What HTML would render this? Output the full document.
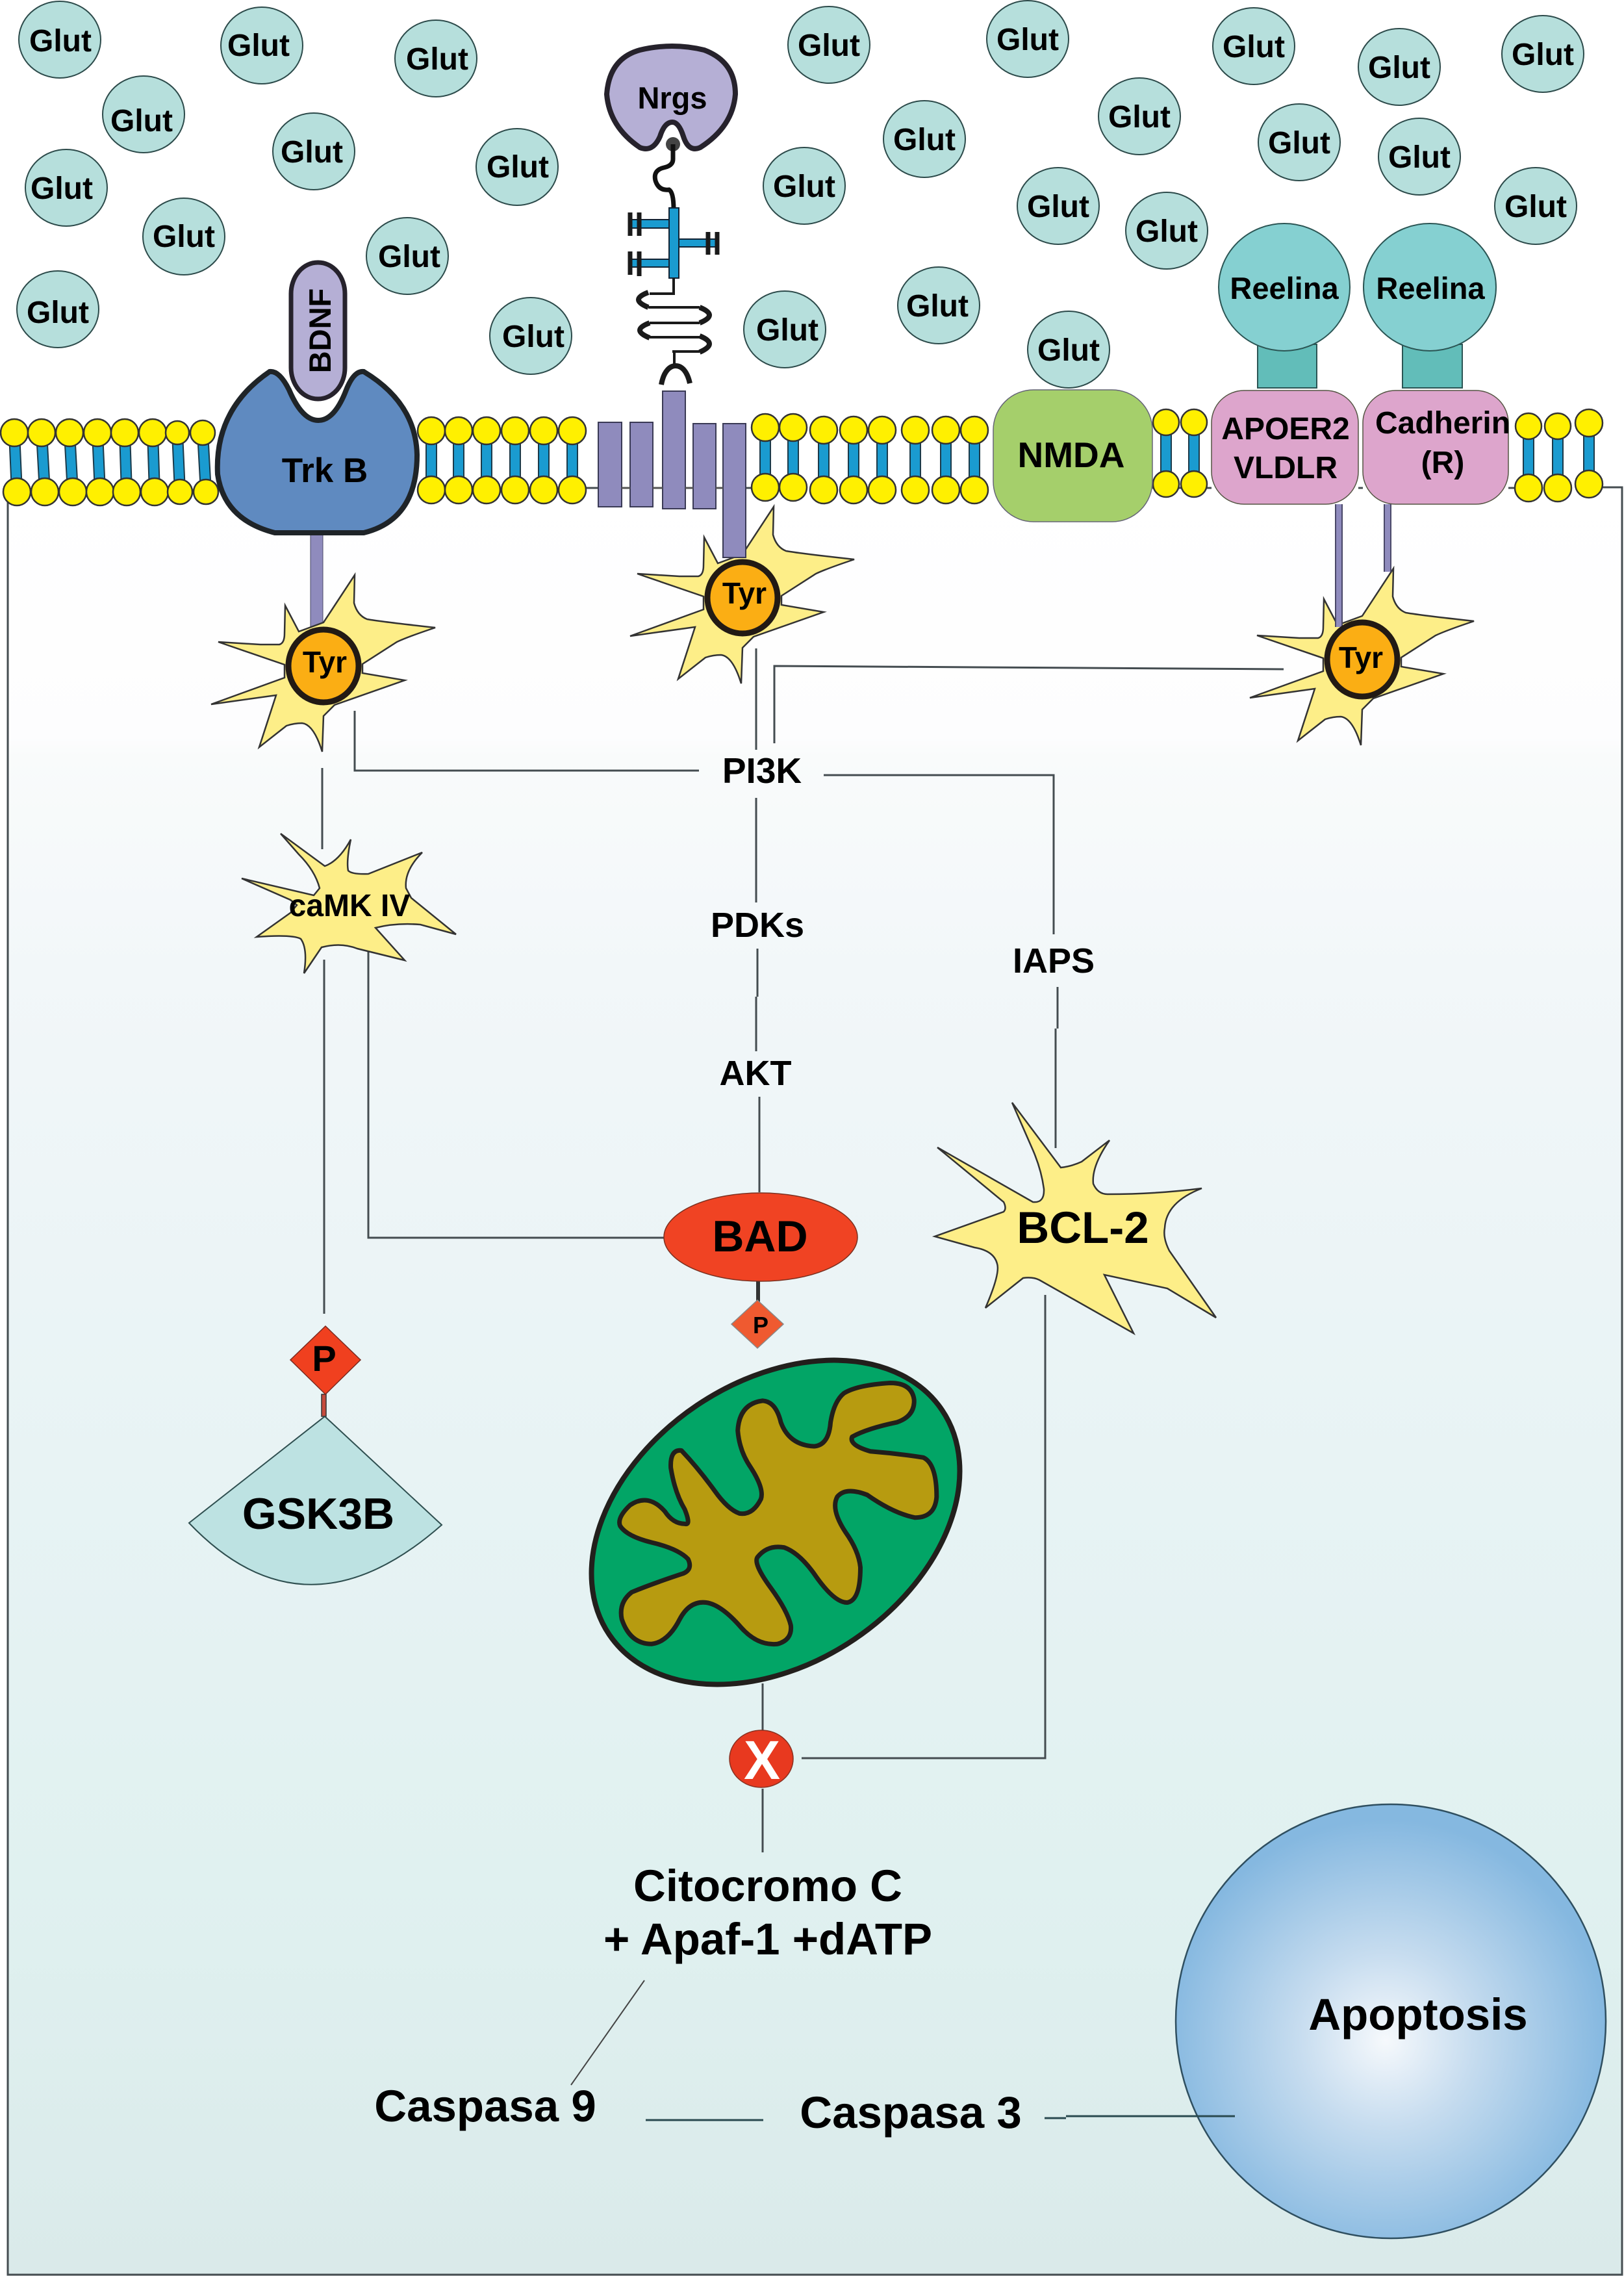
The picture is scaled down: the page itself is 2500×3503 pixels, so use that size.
<!DOCTYPE html>
<html><head><meta charset="utf-8"><title>Diagram</title>
<style>
html,body{margin:0;padding:0;background:#fff}
svg{display:block}
text{font-family:"Liberation Sans",Arial,sans-serif;font-weight:bold;fill:#000;text-anchor:middle}
.g{font-size:48px}
.l{stroke:#444c50;stroke-width:3;fill:none}
.gc{fill:#b6dfdc;stroke:#2c4a4a;stroke-width:2}
.tail{stroke:#1b3a4a;stroke-width:18}
.tailb{stroke:#1a9bd0;stroke-width:14}
.hd{fill:#fff000;stroke:#333;stroke-width:2.5}
.st{fill:#fdee88;stroke:#333;stroke-width:2.5;stroke-linejoin:miter}
.ty{fill:#fbae14;stroke:#221a14;stroke-width:9}
.pr{fill:#8f8bbd;stroke:#3a3a55;stroke-width:2}
</style></head>
<body>
<svg xmlns="http://www.w3.org/2000/svg" width="2500" height="3503" viewBox="0 0 2500 3503">
<defs>
<linearGradient id="bg" x1="0" y1="750" x2="0" y2="3503" gradientUnits="userSpaceOnUse">
<stop offset="0" stop-color="#ffffff"/><stop offset=".14" stop-color="#fdfdfe"/><stop offset=".15" stop-color="#f9fbfb"/><stop offset=".27" stop-color="#f2f7f9"/><stop offset=".45" stop-color="#ebf4f6"/><stop offset=".78" stop-color="#e0f1f0"/><stop offset="1" stop-color="#daeaea"/>
</linearGradient>
<radialGradient id="ap" gradientUnits="userSpaceOnUse" cx="2133" cy="3140" r="340">
<stop offset="0" stop-color="#f6f9fc"/><stop offset=".4" stop-color="#c6dcef"/><stop offset="1" stop-color="#85b8e0"/>
</radialGradient>
<path id="star" class="st" d="M48-140L47-97Q52-78 67-72Q90-68 172-59Q130-45 113-37L60-3L60 11L125 22L17 60L0 77L-2 132Q-15 90-33 88Q-45 88-57 92L-99 125L-73 45L-173 59L-60 18L-60-2L-162-37L-97-33L-68-33Q-60-35-60-50L-59-93L-38-53L0-67Z"/>
</defs>

<rect x="12" y="750" width="2485" height="2752" fill="url(#bg)"/>
<path class="l" d="M12 770V3501H2497V750H2440"/>
<path class="l" d="M900 751H1180M1774 751H1865M2091 751H2098M2322 751H2353"/>

<!-- Glut -->
<g>
<ellipse class="gc" cx="92" cy="61" rx="63" ry="59"/><text class="g" x="93" y="79">Glut</text>
<ellipse class="gc" cx="403" cy="70" rx="63" ry="59"/><text class="g" x="398" y="86">Glut</text>
<ellipse class="gc" cx="671" cy="90" rx="63" ry="59"/><text class="g" x="673" y="107">Glut</text>
<ellipse class="gc" cx="221" cy="176" rx="63" ry="59"/><text class="g" x="218" y="202">Glut</text>
<ellipse class="gc" cx="483" cy="233" rx="63" ry="59"/><text class="g" x="480" y="250">Glut</text>
<ellipse class="gc" cx="102" cy="289" rx="63" ry="59"/><text class="g" x="95" y="306">Glut</text>
<ellipse class="gc" cx="796" cy="257" rx="63" ry="59"/><text class="g" x="797" y="273">Glut</text>
<ellipse class="gc" cx="283" cy="364" rx="63" ry="59"/><text class="g" x="283" y="380">Glut</text>
<ellipse class="gc" cx="627" cy="394" rx="63" ry="59"/><text class="g" x="630" y="411">Glut</text>
<ellipse class="gc" cx="89" cy="476" rx="63" ry="59"/><text class="g" x="89" y="497">Glut</text>
<ellipse class="gc" cx="817" cy="517" rx="63" ry="59"/><text class="g" x="821" y="534">Glut</text>
<ellipse class="gc" cx="1208" cy="507" rx="63" ry="59"/><text class="g" x="1212" y="524">Glut</text>
<ellipse class="gc" cx="1276" cy="69" rx="63" ry="59"/><text class="g" x="1276" y="86">Glut</text>
<ellipse class="gc" cx="1582" cy="60" rx="63" ry="59"/><text class="g" x="1582" y="77">Glut</text>
<ellipse class="gc" cx="1930" cy="71" rx="63" ry="59"/><text class="g" x="1930" y="88">Glut</text>
<ellipse class="gc" cx="2154" cy="103" rx="63" ry="59"/><text class="g" x="2154" y="120">Glut</text>
<ellipse class="gc" cx="2375" cy="83" rx="63" ry="59"/><text class="g" x="2375" y="100">Glut</text>
<ellipse class="gc" cx="1423" cy="214" rx="63" ry="59"/><text class="g" x="1423" y="231">Glut</text>
<ellipse class="gc" cx="1754" cy="179" rx="63" ry="59"/><text class="g" x="1754" y="196">Glut</text>
<ellipse class="gc" cx="2000" cy="219" rx="63" ry="59"/><text class="g" x="2000" y="236">Glut</text>
<ellipse class="gc" cx="2185" cy="241" rx="63" ry="59"/><text class="g" x="2185" y="258">Glut</text>
<ellipse class="gc" cx="1238" cy="286" rx="63" ry="59"/><text class="g" x="1238" y="303">Glut</text>
<ellipse class="gc" cx="1629" cy="317" rx="63" ry="59"/><text class="g" x="1629" y="334">Glut</text>
<ellipse class="gc" cx="1796" cy="355" rx="63" ry="59"/><text class="g" x="1796" y="372">Glut</text>
<ellipse class="gc" cx="2364" cy="317" rx="63" ry="59"/><text class="g" x="2364" y="334">Glut</text>
<ellipse class="gc" cx="1445" cy="470" rx="63" ry="59"/><text class="g" x="1443" y="487">Glut</text>
<ellipse class="gc" cx="1645" cy="538" rx="63" ry="59"/><text class="g" x="1645" y="555">Glut</text>
</g>

<!-- Lipids -->
<g>
<path class="tail" d="M22 666L26 757M64 666L69 757M107 666L112 757M150 666L154 757M192 666L195 757M235 666L238 757M273 666L277 757M312 666L317 757M664 663V754M706 663V754M749 663V754M793 663V754M837 663V754M881 663V754M1178 658V750M1221 658V750M1268 662V754M1314 662V754M1358 662V754M1409 662V754M1456 662V754M1500 662V754M1795 650V745M1838 650V745M2353 656V751M2398 656V751M2446 651V745"/>
<path class="tailb" d="M22 666L26 757M64 666L69 757M107 666L112 757M150 666L154 757M192 666L195 757M235 666L238 757M273 666L277 757M312 666L317 757M664 663V754M706 663V754M749 663V754M793 663V754M837 663V754M881 663V754M1178 658V750M1221 658V750M1268 662V754M1314 662V754M1358 662V754M1409 662V754M1456 662V754M1500 662V754M1795 650V745M1838 650V745M2353 656V751M2398 656V751M2446 651V745"/>
<g class="hd">
<circle cx="22" cy="666" r="21"/><circle cx="64" cy="666" r="21"/><circle cx="107" cy="666" r="21"/><circle cx="150" cy="666" r="21"/><circle cx="192" cy="666" r="21"/><circle cx="235" cy="666" r="21"/><circle cx="273" cy="666" r="18"/><circle cx="312" cy="666" r="19"/>
<circle cx="26" cy="757" r="21"/><circle cx="69" cy="757" r="21"/><circle cx="112" cy="757" r="21"/><circle cx="154" cy="757" r="21"/><circle cx="195" cy="757" r="21"/><circle cx="238" cy="757" r="21"/><circle cx="277" cy="757" r="19"/><circle cx="317" cy="757" r="19"/>
<circle cx="664" cy="663" r="21"/><circle cx="706" cy="663" r="21"/><circle cx="749" cy="663" r="21"/><circle cx="793" cy="663" r="21"/><circle cx="837" cy="663" r="21"/><circle cx="881" cy="663" r="21"/>
<circle cx="664" cy="754" r="21"/><circle cx="706" cy="754" r="21"/><circle cx="749" cy="754" r="21"/><circle cx="793" cy="754" r="21"/><circle cx="837" cy="754" r="21"/><circle cx="881" cy="754" r="21"/>
<circle cx="1178" cy="658" r="21"/><circle cx="1221" cy="658" r="21"/><circle cx="1178" cy="750" r="21"/><circle cx="1221" cy="750" r="21"/>
<circle cx="1268" cy="662" r="21"/><circle cx="1314" cy="662" r="21"/><circle cx="1358" cy="662" r="21"/><circle cx="1409" cy="662" r="21"/><circle cx="1456" cy="662" r="21"/><circle cx="1500" cy="662" r="21"/>
<circle cx="1268" cy="754" r="21"/><circle cx="1314" cy="754" r="21"/><circle cx="1358" cy="754" r="21"/><circle cx="1409" cy="754" r="21"/><circle cx="1456" cy="754" r="21"/><circle cx="1500" cy="754" r="21"/>
<circle cx="1795" cy="650" r="20"/><circle cx="1838" cy="650" r="20"/><circle cx="1795" cy="745" r="20"/><circle cx="1838" cy="745" r="20"/>
<circle cx="2353" cy="656" r="20"/><circle cx="2398" cy="656" r="20"/><circle cx="2446" cy="651" r="21"/><circle cx="2353" cy="751" r="21"/><circle cx="2398" cy="751" r="21"/><circle cx="2446" cy="745" r="21"/>
</g>
</g>

<!-- Nrgs chain -->
<path d="M985 77Q1035 65 1084 77Q1132 95 1132 145Q1128 195 1078 227Q1060 235 1052 210Q1045 188 1035 188Q1023 188 1016 210Q1005 235 985 227Q938 195 934 145Q938 90 985 77Z" fill="#b5afd5" stroke="#26222c" stroke-width="8"/>
<text x="1035" y="167" font-size="47">Nrgs</text>
<circle cx="1036" cy="222" r="11" fill="#444"/>
<path d="M1036 222V245Q1036 255 1022 258Q1005 262 1009 278Q1014 294 1030 292Q1037 296 1037 322" fill="none" stroke="#111" stroke-width="7"/>
<g fill="#1a9bd0" stroke="#123" stroke-width="2">
<rect x="970" y="338" width="60" height="13"/><rect x="970" y="399" width="60" height="12"/><rect x="1045" y="368" width="58" height="12"/>
<rect x="1030" y="320" width="15" height="108"/>
</g>
<path d="M970 327V363M984 327V363M970 387V423M984 387V425M1090 357V392M1104 357V392" stroke="#1a1a1a" stroke-width="7" fill="none"/>
<path d="M1037 428V452H1000M998 473H1077M1077 497H1000M1000 519H1077M1077 541H1035M1038 541V562" fill="none" stroke="#1a1a1a" stroke-width="4"/>
<path d="M998 450Q968 461 998 473M1077 473Q1107 485 1077 497M1000 497Q970 508 1000 520M1077 517Q1107 529 1077 542M1018 592C1022 570 1032 563 1040 563C1050 563 1058 572 1062 590" fill="none" stroke="#1a1a1a" stroke-width="8"/>

<!-- Trk B and BDNF -->
<rect x="478" y="815" width="19" height="160" fill="#8f8bbd" stroke="#4a4868" stroke-width="1"/>
<path d="M415 572Q430 570 445 600Q465 647 490 647Q515 647 533 600Q545 570 560 572Q640 620 642 700Q642 800 560 820L423 820Q345 800 335 730Q330 630 415 572Z" fill="#5f8ac0" stroke="#1f2428" stroke-width="8"/>
<rect x="448" y="404" width="83" height="210" rx="41" ry="48" fill="#b5afd5" stroke="#26222c" stroke-width="7"/>
<text transform="translate(509 509) rotate(-90)" font-size="47">BDNF</text>
<text x="500" y="742" font-size="53">Trk B</text>

<!-- Connectors -->
<path class="l" d="M496 1182V1307M499 1477V2022M567 1465V1905H1023M546 1094V1186H1076"/>
<path class="l" d="M1164 998V1154M1164 1228V1389M1166 1460V1534M1164 1534V1618M1169 1688V1835"/>
<path class="l" d="M1192 1144V1025L1976 1030"/>
<path class="l" d="M1268 1193H1622V1438M1628 1519V1583M1625 1583V1767"/>
<path class="l" d="M1609 1993V2706H1234"/>
<path class="l" d="M1174 2591V2664M1174 2753V2851"/>
<path d="M992 3048L879 3209" stroke="#444" stroke-width="2" fill="none"/>
<path d="M994 3263H1175M1608 3260H1641" stroke="#2a4a50" stroke-width="3" fill="none"/>

<!-- Tyr stars -->
<use href="#star" x="498" y="1025"/>
<use href="#star" x="1143" y="920"/>
<use href="#star" x="2097" y="1015"/>
<path d="M2061 776V965M2136 776V880" stroke="#4a4868" stroke-width="12" fill="none"/>
<path d="M2061 776V965M2136 776V880" stroke="#8f8bbd" stroke-width="8" fill="none"/>
<g class="pr">
<rect x="921" y="650" width="36" height="130"/><rect x="970" y="650" width="35" height="130"/><rect x="1020" y="602" width="35" height="181"/><rect x="1067" y="652" width="35" height="131"/><rect x="1113" y="652" width="35" height="206"/>
</g>
<path d="M957 751H970M1005 751H1020M1055 751H1067M1102 751H1113" stroke="#555" stroke-width="3"/>
<ellipse class="ty" cx="498" cy="1025" rx="54" ry="56"/><text x="500" y="1035" font-size="46">Tyr</text>
<ellipse class="ty" cx="1143" cy="920" rx="54" ry="55"/><text x="1146" y="929" font-size="46">Tyr</text>
<ellipse class="ty" cx="2097" cy="1015" rx="54" ry="57"/><text x="2095" y="1028" font-size="46">Tyr</text>

<!-- Right receptors -->
<g fill="#62bdb9" stroke="#2b5554" stroke-width="2">
<rect x="1936" y="530" width="91" height="67"/><rect x="2159" y="530" width="92" height="67"/>
</g>
<g fill="#85d0d1" stroke="#2b5554" stroke-width="2">
<ellipse cx="1977" cy="442" rx="101" ry="98"/><ellipse cx="2201" cy="442" rx="102" ry="98"/>
</g>
<text x="1977" y="460" font-size="47">Reelina</text><text x="2202" y="460" font-size="47">Reelina</text>
<rect x="1529" y="600" width="245" height="203" rx="62" fill="#a5cf6b" stroke="#667" stroke-width="1.5"/>
<text x="1649" y="719" font-size="55">NMDA</text>
<rect x="1865" y="601" width="226" height="175" rx="50" fill="#dda5cc" stroke="#554" stroke-width="1.5"/>
<rect x="2098" y="601" width="224" height="175" rx="50" fill="#dda5cc" stroke="#554" stroke-width="1.5"/>
<text x="1979" y="676" font-size="48">APOER2</text><text x="1979" y="736" font-size="48">VLDLR</text>
<text x="2221" y="667" font-size="48">Cadherin</text><text x="2221" y="728" font-size="48" font-weight="normal">(R)</text>

<!-- caMK IV -->
<path class="st" d="M432 1283L500 1333Q522 1325 540 1292Q533 1325 536 1340Q542 1346 567 1345L650 1312Q622 1340 625 1367L633 1382L702 1438L647 1423Q610 1420 578 1428L623 1478L550 1460Q525 1450 495 1458L468 1498Q474 1460 463 1445Q450 1438 395 1442L447 1405L457 1393L447 1385L372 1352L483 1378L492 1367Q485 1340 460 1315Z"/>
<text x="538" y="1410" font-size="48">caMK IV</text>

<text x="1173" y="1205" font-size="55">PI3K</text>
<text x="1166" y="1442" font-size="54">PDKs</text>
<text x="1163" y="1670" font-size="54">AKT</text>
<text x="1622" y="1497" font-size="54">IAPS</text>

<!-- BCL-2 -->
<path class="st" d="M1558 1697L1633 1797Q1650 1795 1665 1788L1708 1755Q1680 1795 1683 1822Q1690 1838 1705 1838Q1780 1838 1850 1829Q1795 1850 1793 1890Q1790 1905 1800 1925L1872 2028L1797 1983Q1760 1975 1700 1962L1745 2052L1600 1970Q1590 1965 1575 1967L1517 2013Q1540 1960 1535 1945Q1530 1925 1500 1920L1439 1903L1545 1865Q1550 1860 1545 1850L1443 1766L1590 1850Q1608 1852 1607 1830Q1603 1800 1590 1770Z"/>
<text x="1667" y="1913" font-size="69">BCL-2</text>

<!-- BAD -->
<rect x="1164" y="1970" width="6" height="36" fill="#333"/>
<ellipse cx="1171" cy="1904" rx="149" ry="68" fill="#f04323" stroke="#7a3020" stroke-width="1.5"/>
<text x="1170" y="1926" font-size="68">BAD</text>
<path d="M1166 2001L1206 2038L1166 2075L1126 2038Z" fill="#ef5a30" stroke="#888" stroke-width="1.5"/>
<text x="1171" y="2052" font-size="36">P</text>

<!-- P and GSK3B -->
<rect x="495" y="2146" width="7" height="34" fill="#c64a3c" stroke="#333" stroke-width="1.5"/>
<path d="M501 2041L555 2093L501 2146L447 2093Z" fill="#f0401f" stroke="#7a2a20" stroke-width="1.5"/>
<text x="499" y="2110" font-size="56">P</text>
<path d="M500 2180L680 2347Q470 2532 291 2344Z" fill="#bde2e2" stroke="#2f4f50" stroke-width="2"/>
<text x="490" y="2353" font-size="68">GSK3B</text>

<!-- Mitochondrion -->
<ellipse cx="1194" cy="2343" rx="309" ry="217" transform="rotate(-34 1194 2343)" fill="#02a566" stroke="#221f1c" stroke-width="8"/>
<path transform="translate(850 1800) scale(.5102 .6378)" fill="#b79b10" stroke="#221f1c" stroke-width="7" stroke-linejoin="round" vector-effect="non-scaling-stroke" d="M1092 555Q1085 515 1020 515Q920 520 880 540Q850 560 840 610Q835 665 790 668Q715 665 690 610Q675 560 635 558Q565 565 560 630Q565 680 600 720Q640 770 630 795Q605 835 565 830Q530 820 490 775Q440 720 390 678Q355 675 358 720Q370 780 400 820Q420 860 400 855Q365 855 340 825Q290 780 235 810Q195 840 205 860Q225 885 300 900Q380 915 410 940Q425 965 395 975Q300 1000 240 1020Q200 1045 210 1085Q235 1145 300 1145Q350 1140 385 1085Q415 1040 465 1045Q510 1050 570 1105Q620 1150 680 1145Q725 1135 720 1100Q710 1065 660 1010Q605 950 620 935Q650 905 700 912Q745 925 790 975Q850 1045 890 1045Q930 1040 930 960Q925 920 885 875Q840 820 860 790Q885 765 950 785Q1030 830 1095 840Q1155 840 1160 790Q1160 710 1120 695Q1040 685 960 680Q895 665 905 645Q950 625 1040 610Q1095 595 1092 555Z"/>

<!-- X -->
<ellipse cx="1172" cy="2707" rx="49" ry="44" fill="#e8391f" stroke="#8a3020" stroke-width="1.5"/>
<text x="1173" y="2738" font-size="84" style="fill:#fff">X</text>

<!-- Bottom labels -->
<text x="1182" y="2926" font-size="69">Citocromo C</text>
<text x="1182" y="3008" font-size="69">+ Apaf-1 +dATP</text>
<text x="747" y="3265" font-size="69">Caspasa 9</text>
<text x="1402" y="3275" font-size="69">Caspasa 3</text>

<!-- Apoptosis -->
<ellipse cx="2141" cy="3111" rx="331" ry="334" fill="url(#ap)" stroke="#2f4f60" stroke-width="2.5"/>
<path d="M1641 3257H1901" stroke="#2a4a50" stroke-width="3"/>
<text x="2183" y="3124" font-size="69">Apoptosis</text>
</svg>
</body></html>
